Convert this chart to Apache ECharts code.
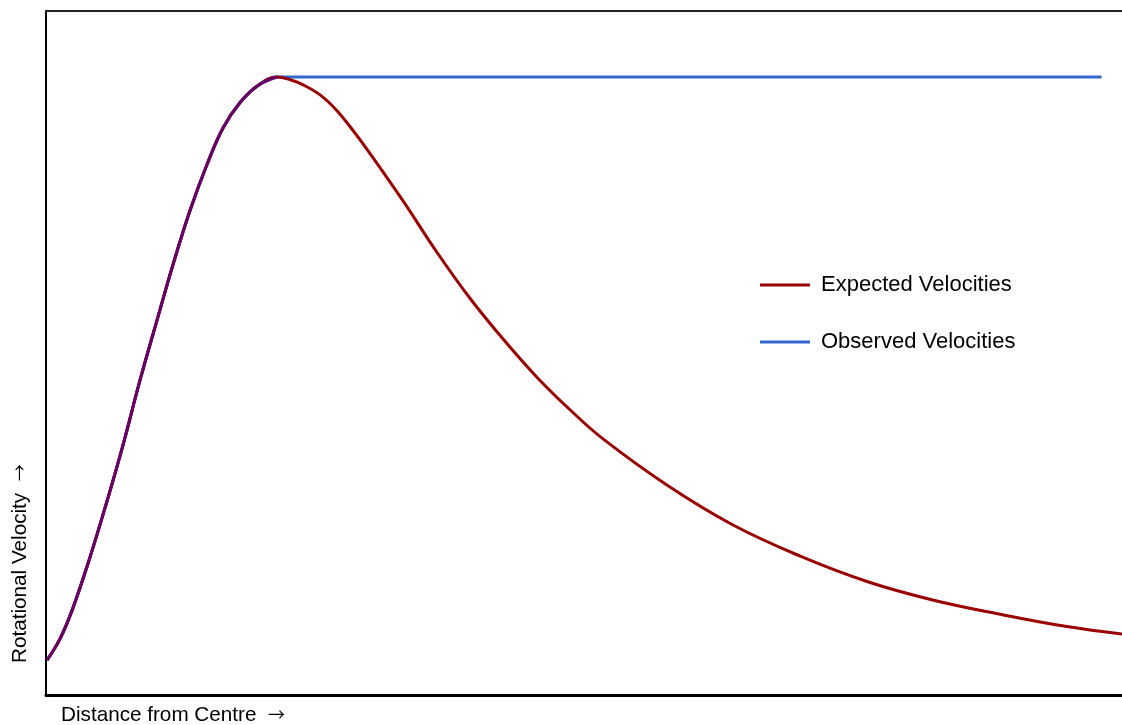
<!DOCTYPE html>
<html>
<head>
<meta charset="utf-8">
<script src="https://cdn.jsdelivr.net/npm/echarts@6/dist/echarts.min.js"></script>
<style>html,body{margin:0;padding:0;background:#fff}#c{width:1122px;height:725px}</style>
</head>
<body>
<div id="c"></div>
<script>
// Distance (arbitrary units) and rotational velocity (arbitrary units)
const expectedX = [0.01, 0.13, 0.25, 0.41, 0.57, 0.72, 0.87, 1.03, 1.18, 1.34, 1.50, 1.645, 1.80, 1.97, 2.147,
  2.27, 2.39, 2.55, 2.70, 2.85, 3.01, 3.32, 3.63, 3.94, 4.25, 4.56, 4.87, 5.18, 5.77, 6.385, 7.01, 7.63, 8.24, 8.87, 9.49, 10.0];
const expectedY = [0.51, 0.82, 1.27, 2.02, 2.85, 3.68, 4.58, 5.47, 6.29, 7.09, 7.77, 8.29, 8.655, 8.91, 9.035,
  8.995, 8.92, 8.77, 8.55, 8.26, 7.92, 7.22, 6.48, 5.80, 5.20, 4.65, 4.17, 3.74, 3.07, 2.485, 2.03, 1.66, 1.39, 1.18, 1.00, 0.89];
// Observed: follows the expected curve up to the peak, then stays flat
const observedX = [0.01, 0.13, 0.25, 0.41, 0.57, 0.72, 0.87, 1.03, 1.18, 1.34, 1.50, 1.645, 1.80, 1.97, 2.147, 9.81];
const observedY = [0.51, 0.82, 1.27, 2.02, 2.85, 3.68, 4.58, 5.47, 6.29, 7.09, 7.77, 8.29, 8.655, 8.91, 9.035, 9.035];
const seriesNames = ['Expected Velocities', 'Observed Velocities'];
const axisTitles = ['Distance from Centre', 'Rotational Velocity'];

const pairs = (xs, ys) => xs.map((x, i) => [x, ys[i]]);
const observedRise = pairs(observedX, observedY).slice(0, observedX.length - 1);

const chart = echarts.init(document.getElementById('c'));
const font = '"Liberation Sans", Arial, sans-serif';
const titleStyle = (t) => ({
  text: t + '  {a|\u2192}',
  font: '20.7px ' + font, fill: '#000', textVerticalAlign: 'middle', textAlign: 'left',
  rich: { a: { fontFamily: 'Noto Sans CJK SC', fontSize: 17, fill: '#000' } }
});
chart.setOption({
  animation: false,
  backgroundColor: '#fff',
  grid: { left: 46, right: 0, top: 11, bottom: 30 },
  xAxis: [
    { type: 'value', min: 0, max: 10, position: 'bottom',
      axisLine: { show: true, onZero: false, lineStyle: { color: '#000', width: 3 } },
      axisTick: { show: false }, axisLabel: { show: false }, splitLine: { show: false } },
    { type: 'value', min: 0, max: 10, position: 'top',
      axisLine: { show: true, onZero: false, lineStyle: { color: '#222', width: 2 } },
      axisTick: { show: false }, axisLabel: { show: false }, splitLine: { show: false } }
  ],
  yAxis: { type: 'value', min: 0, max: 10,
    axisLine: { show: true, onZero: false, lineStyle: { color: '#000', width: 2 } },
    axisTick: { show: false }, axisLabel: { show: false }, splitLine: { show: false } },
  legend: {
    orient: 'vertical', left: 755, top: 269,
    data: seriesNames,
    icon: 'rect', itemWidth: 50, itemHeight: 3, itemGap: 35,
    textStyle: { fontFamily: font, fontSize: 22, color: '#000', padding: [0, 0, 0, 6] }
  },
  graphic: [
    { type: 'text', x: 61, y: 715, style: titleStyle(axisTitles[0]) },
    { type: 'text', x: 20, y: 663, rotation: Math.PI / 2, style: titleStyle(axisTitles[1]) }
  ],
  series: [
    { name: seriesNames[1], type: 'line', data: pairs(observedX, observedY), smooth: 0.4, showSymbol: false, z: 1,
      itemStyle: { color: '#3366cc' }, lineStyle: { color: '#3366cc', width: 3 } },
    { name: seriesNames[0], type: 'line', data: pairs(expectedX, expectedY), smooth: 0.4, showSymbol: false, z: 2,
      itemStyle: { color: '#990000' }, lineStyle: { color: '#990000', width: 3 } },
    { name: seriesNames[1], type: 'line', data: observedRise, smooth: 0.4, showSymbol: false, z: 3,
      itemStyle: { color: '#3366cc' }, lineStyle: { color: '#660066', width: 3 } }
  ]
});
</script>
</body>
</html>
